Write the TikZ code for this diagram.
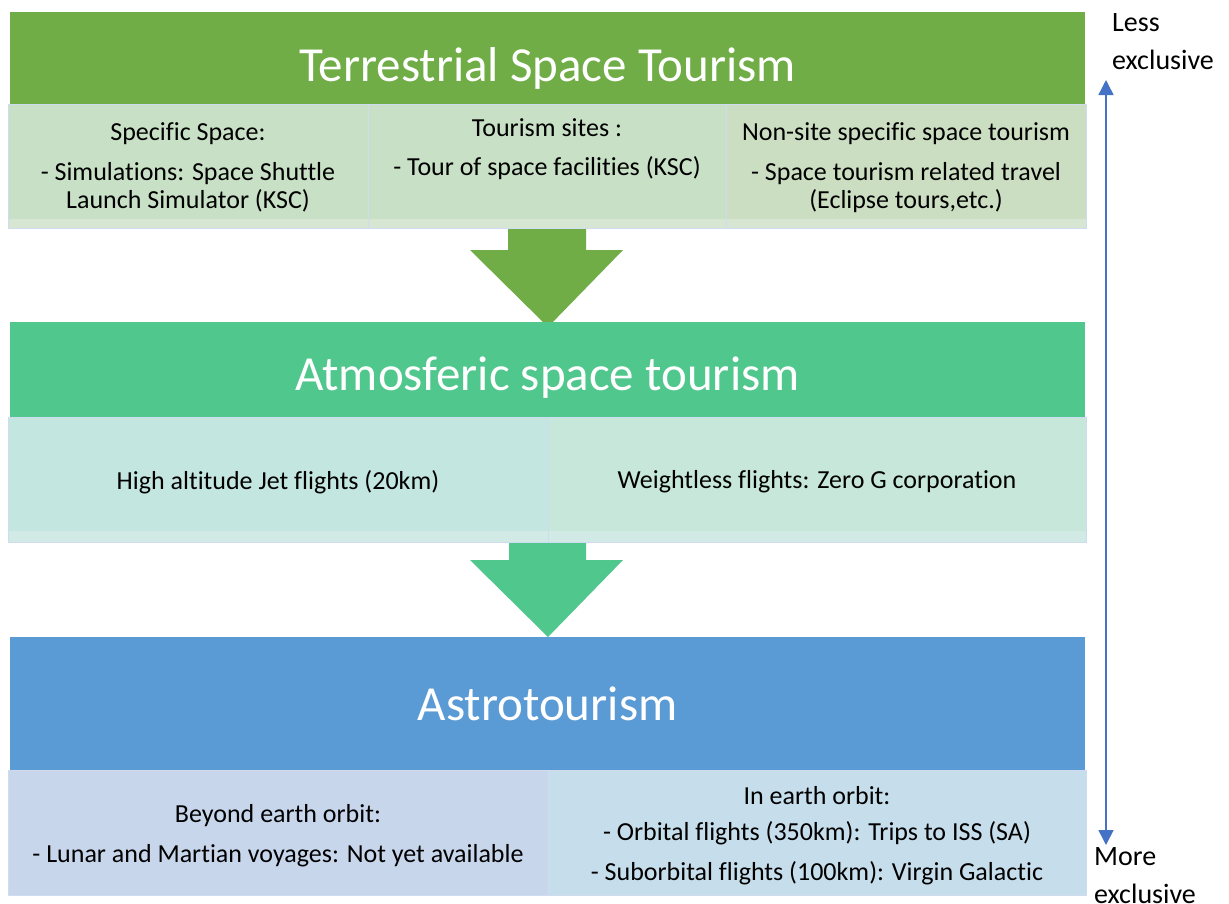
\documentclass[tikz,border=0pt]{standalone}
\usepackage{fontspec}
\setmainfont{Carlito}[Ligatures=CommonOff]
\usetikzlibrary{arrows.meta}
\definecolor{gA}{HTML}{70AD47}
\definecolor{gB}{HTML}{50C78D}
\definecolor{bC}{HTML}{5B9BD5}
\definecolor{fA}{HTML}{C8E0C5}
\definecolor{fAc}{HTML}{CBDEC2}
\definecolor{sA}{HTML}{D6E6D3}
\definecolor{fB}{HTML}{C4E6E0}
\definecolor{fBr}{HTML}{C6E7DA}
\definecolor{sB}{HTML}{D5EBE8}
\definecolor{fC}{HTML}{C8D6EC}
\definecolor{fCr}{HTML}{C6DDEB}
\definecolor{bord}{HTML}{CFDBEF}
\definecolor{axis}{HTML}{4472C4}
\begin{document}
\begin{tikzpicture}[x=1pt,y=-1pt,
  header/.style={minimum width=1075pt,inner sep=0pt},
  title/.style={text=white,inner sep=0pt,font=\fontsize{49}{55}\selectfont},
  subbox/.style={draw=bord,line width=1pt,inner sep=0pt,minimum height=124pt},
  subtext/.style={align=center,font=\fontsize{26}{28}\selectfont,inner sep=0pt},
  side/.style={align=left,font=\fontsize{28}{38}\selectfont,inner sep=0pt}]
\useasboundingbox (0,0) rectangle (1229,903);
\fill[white] (0,0) rectangle (1229,903);
% arrows
\fill[gA] (508,226) -- (586,226) -- (586,250) -- (623,250) -- (548,327) -- (470,250) -- (508,250) -- cycle;
\fill[gB] (509,540) -- (586,540) -- (586,560) -- (623,560) -- (548,637) -- (470,560) -- (509,560) -- cycle;
% headers
\node[header,fill=gA,minimum height=92pt] (h1) at (547.5,58) {};
\node[header,fill=gB,minimum height=95pt] (h2) at (547.5,369.5) {};
\node[header,fill=bC,minimum height=133pt] (h3) at (547.5,703.5) {};
\node[title] (h1t) at (547.5,68) {Terrestrial Space Tourism};
\node[title] (h2t) at (547.5,378) {Atmosferic space tourism};
\node[title] (h3t) at (547.5,704) {Astrotourism};
% row 1
\node[subbox,fill=fA,minimum width=360pt] (a1) at (188,166) {};
\node[subbox,fill=fA,minimum width=358pt] (a2) at (547,166) {};
\node[subbox,fill=fAc,minimum width=360pt] (a3) at (906,166) {};
\foreach \n in {a1,a2,a3}{\fill[sA] ([xshift=1pt,yshift=10pt]\n.south west) rectangle ([xshift=-1pt,yshift=0.5pt]\n.south east);}
\node[subtext] (t1) at (188,167.5) {Specific Space:\\[12pt]- Simulations: Space Shuttle\\Launch Simulator (KSC)};
\node[subtext] (t2) at (547,149) {Tourism sites :\\[11pt]- Tour of space facilities (KSC)};
\node[subtext] (t3) at (906,167.5) {Non-site specific space tourism\\[12pt]- Space tourism related travel\\(Eclipse tours,etc.)};
% row 2
\node[subbox,fill=fB,minimum width=540pt,minimum height=125pt] (b1) at (278,479.5) {};
\node[subbox,fill=fBr,minimum width=538pt,minimum height=125pt] (b2) at (817,479.5) {};
\foreach \n in {b1,b2}{\fill[sB,opacity=0.8] ([xshift=1pt,yshift=12pt]\n.south west) rectangle ([xshift=-1pt,yshift=0.5pt]\n.south east);}
\node[subtext] (t4) at (278,482) {High altitude Jet flights (20km)};
\node[subtext] (t5) at (817,482) {Weightless flights: Zero G corporation};
% row 3
\node[subbox,fill=fC,minimum width=540pt,minimum height=125pt] (c1) at (278,832.5) {};
\node[subbox,fill=fCr,minimum width=538pt,minimum height=125pt] (c2) at (817,832.5) {};
\node[subtext] (t6) at (278,835.5) {Beyond earth orbit:\\[12pt]- Lunar and Martian voyages: Not yet available};
\node[subtext] (t7) at (817,835.5) {In earth orbit:\\[8pt]- Orbital flights (350km): Trips to ISS (SA)\\[12pt]- Suborbital flights (100km): Virgin Galactic};
% side axis
\coordinate (top) at (1106,80);
\coordinate (bot) at (1106,845);
\draw[axis,line width=1.5pt,{Triangle[width=15pt,length=15pt]}-{Triangle[width=15pt,length=15pt]}] (top) -- (bot);
\node[side,anchor=west] (less) at (1112,42) {Less\\exclusive};
\node[side,anchor=west] (more) at (1094,876) {More\\exclusive};
\end{tikzpicture}
\end{document}
